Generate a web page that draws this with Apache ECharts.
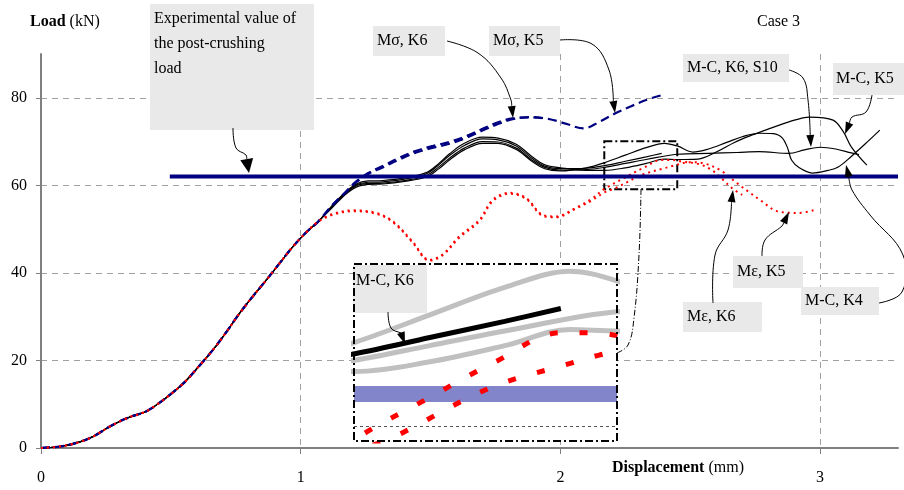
<!DOCTYPE html>
<html>
<head>
<meta charset="utf-8">
<script src="https://cdn.jsdelivr.net/npm/echarts@6/dist/echarts.min.js"></script>
<style>
  html, body { margin: 0; padding: 0; background: #fff; }
  #chart { width: 904px; height: 490px; }
</style>
</head>
<body>
<div id="chart"></div>
<script>
// common loading branch (displacement mm, load kN)
const initialLoad = [
  [0, 0], [0.08, 0.4], [0.15, 1.4], [0.2, 2.6], [0.265, 4.9], [0.33, 6.8], [0.406, 8.4],
  [0.46, 10.5], [0.51, 12.8], [0.554, 15.1], [0.61, 18.8], [0.662, 22.4], [0.715, 26.6],
  [0.765, 30.8], [0.818, 34.8], [0.868, 38.4], [0.92, 42.3], [0.97, 46], [1.02, 49.2], [1.067, 51.7]
]

const mcK6Tail = [
  [1.12, 55.2], [1.17, 58.2], [1.214, 60.1], [1.26, 60.7], [1.316, 60.8], [1.40, 61.4], [1.483, 62.6],
  [1.53, 64.6], [1.573, 66.8], [1.63, 69.1], [1.70, 70.6], [1.76, 70.4], [1.83, 69], [1.89, 66.2],
  [1.94, 64.4], [2.0, 63.8], [2.1, 63.9], [2.17, 64.5], [2.25, 65.5], [2.33, 66.5], [2.39, 67.3]
]
const mcK6S10Tail = [
  [1.12, 55], [1.17, 58], [1.214, 59.9], [1.26, 60.4], [1.316, 60.5], [1.40, 61.1], [1.483, 62.2],
  [1.53, 64.1], [1.573, 66.2], [1.63, 68.5], [1.70, 70], [1.76, 69.9], [1.83, 68.5], [1.89, 65.8],
  [1.94, 64.1], [2.0, 63.5], [2.1, 63.6], [2.17, 64.1], [2.25, 65], [2.33, 65.9], [2.45, 67.1],
  [2.57, 67.3], [2.68, 67.5], [2.765, 67.7], [2.88, 67.3], [2.94, 68.1], [3.0, 68.7], [3.06, 68.3],
  [3.12, 67.4], [3.15, 67]
]
const mcK5Tail = [
  [1.12, 55.3], [1.17, 58.3], [1.214, 60.3], [1.26, 61], [1.316, 61.1], [1.40, 61.7], [1.483, 62.9],
  [1.53, 64.9], [1.573, 67.2], [1.63, 69.6], [1.70, 71], [1.76, 70.8], [1.83, 69.4], [1.89, 66.6],
  [1.94, 64.7], [2.0, 64], [2.1, 63.4], [2.17, 63.4], [2.25, 64], [2.33, 65], [2.40, 66], [2.45, 65.9],
  [2.53, 66], [2.60, 67.6], [2.67, 69.8], [2.73, 71.3], [2.79, 72.6], [2.88, 74.5], [2.96, 75.6],
  [3.05, 74.9], [3.09, 72.2], [3.12, 68.8], [3.18, 64.6]
]
const mcK4Tail = [
  [1.12, 54.8], [1.17, 57.8], [1.214, 59.6], [1.26, 60.2], [1.316, 60.3], [1.40, 60.9], [1.483, 61.9],
  [1.53, 63.7], [1.573, 65.8], [1.63, 68.1], [1.70, 69.6], [1.76, 69.6], [1.83, 68.2], [1.89, 65.5],
  [1.94, 63.8], [2.0, 63.3], [2.1, 64], [2.17, 65.2], [2.25, 66.9], [2.33, 68.6], [2.40, 69.6],
  [2.45, 69], [2.51, 67.6], [2.57, 68.3], [2.64, 69.8], [2.70, 71.1], [2.765, 71.9], [2.82, 71.8],
  [2.855, 70.8], [2.875, 68.5], [2.89, 65.8], [2.92, 64], [2.97, 62.8], [3.03, 63.4], [3.07, 64.2],
  [3.12, 66.6], [3.18, 69.8], [3.23, 72.6]
]
const msK6Tail = [
  [1.12, 55.4], [1.17, 58.3], [1.214, 60.9], [1.26, 62.8], [1.316, 64.4], [1.38, 66.3], [1.445, 67.9],
  [1.51, 69], [1.573, 69.9], [1.64, 71.3], [1.70, 72.9], [1.76, 74.4], [1.816, 75.3], [1.89, 75.5], [1.95, 75.2]
]
const msK5Tail = [
  [1.12, 55.3], [1.17, 58.2], [1.214, 60.7], [1.26, 62.6], [1.316, 64.1], [1.38, 65.9], [1.445, 67.5],
  [1.51, 68.6], [1.573, 69.5], [1.64, 70.9], [1.70, 72.5], [1.76, 74], [1.816, 75.1], [1.89, 75.6],
  [1.96, 75.1], [2.02, 74.1], [2.09, 73], [2.15, 74.5], [2.21, 76.4], [2.27, 78], [2.33, 79.5], [2.39, 80.6]
]
const meK6Tail = [
  [1.12, 53.4], [1.2, 54.3], [1.29, 53.7], [1.355, 51.8], [1.43, 47.2], [1.496, 43], [1.546, 44.2],
  [1.61, 48.3], [1.688, 52.1], [1.74, 56.7], [1.804, 58.3], [1.868, 57.1], [1.93, 53.3], [1.98, 52.9],
  [2.07, 55.2], [2.12, 56.9], [2.17, 59.2], [2.25, 61.8], [2.32, 64], [2.39, 65.8], [2.425, 65.8],
  [2.47, 65.4], [2.53, 64.9], [2.58, 63.6], [2.62, 61.6], [2.66, 59.4], [2.70, 57.8]
]
const meK5Tail = [
  [1.12, 53.2], [1.2, 54.1], [1.29, 53.5], [1.355, 51.6], [1.43, 47], [1.496, 42.8], [1.546, 44],
  [1.61, 48], [1.688, 51.8], [1.74, 56.4], [1.804, 58.1], [1.868, 56.9], [1.93, 53.1], [1.98, 52.7],
  [2.07, 55], [2.12, 56.5], [2.17, 58.4], [2.21, 59.3], [2.315, 62.4], [2.40, 63.9], [2.43, 64.4],
  [2.5, 65.3], [2.56, 64.9], [2.62, 63.3], [2.68, 60.5], [2.73, 58.3], [2.77, 56.6], [2.84, 54],
  [2.92, 53.7], [2.98, 54.4]
]
const postCrushingLoad = 62
const postCrushingRange = [0.496, 3.3]

const xTicks = [0, 1, 2, 3]
const yTicks = [0, 20, 40, 60, 80]
// zoom window shown in the inset
const zoomX = [2.169, 2.45]
const zoomY = [59.1, 70.05]

const mcK6 = initialLoad.concat(mcK6Tail)
const mcK6S10 = initialLoad.concat(mcK6S10Tail)
const mcK5 = initialLoad.concat(mcK5Tail)
const mcK4 = initialLoad.concat(mcK4Tail)
const msK6 = initialLoad.concat(msK6Tail)
const msK5 = initialLoad.concat(msK5Tail)
const meK6 = initialLoad.concat(meK6Tail)
const meK5 = initialLoad.concat(meK5Tail)
const postCrushing = postCrushingRange.map(x => [x, postCrushingLoad])
const postCrushingZoom = zoomX.map(x => [x, postCrushingLoad])

const font = '"Liberation Serif", "Times New Roman", serif'
const dashDot = [8, 3, 2, 3]

function line (name, data, color, width, type, extra) {
  return Object.assign({
    name,
    type: 'line',
    data,
    smooth: 0.35,
    symbol: 'none',
    silent: true,
    lineStyle: { color, width, type }
  }, extra || {})
}

function inset (name, data, color, width, type, extra) {
  return line(name, data, color, width, type, Object.assign({ xAxisIndex: 1, yAxisIndex: 1, z: 3 }, extra || {}))
}

function arrow (pts, len, w) {
  const t = pts[pts.length - 1]
  const p = pts[pts.length - 2]
  const d = Math.hypot(t[0] - p[0], t[1] - p[1])
  const ux = (t[0] - p[0]) / d
  const uy = (t[1] - p[1]) / d
  const bx = t[0] - ux * len
  const by = t[1] - uy * len
  return [
    {
      type: 'polyline', z: 20, silent: true,
      shape: { points: pts.slice(0, -1).concat([[bx, by]]), smooth: 0.4 },
      style: { stroke: '#000', lineWidth: 1, fill: null }
    },
    {
      type: 'polygon', z: 20, silent: true,
      shape: { points: [t, [bx - uy * w / 2, by + ux * w / 2], [bx + uy * w / 2, by - ux * w / 2]] },
      style: { fill: '#000' }
    }
  ]
}

function label (x, y, w, h, text, tx, ty) {
  return [
    { type: 'rect', z: 19, silent: true, shape: { x, y, width: w, height: h }, style: { fill: '#e9e9e9' } },
    {
      type: 'text', z: 21, silent: true,
      style: { text, x: tx, y: ty, font: '16px ' + font, fill: '#000', verticalAlign: 'middle' }
    }
  ]
}

const graphics = [
  // inset background and frame
  { type: 'rect', z: 1, silent: true, shape: { x: 354, y: 264, width: 263, height: 177 }, style: { fill: '#fff' } },
  {
    type: 'rect', z: 20, silent: true, shape: { x: 354, y: 264, width: 263, height: 177 },
    style: { fill: null, stroke: '#000', lineWidth: 2, lineDash: dashDot }
  },
  {
    type: 'polyline', z: 20, silent: true,
    shape: { points: [[641, 189], [639, 255], [634, 318], [628, 345], [617, 353]], smooth: 0.4 },
    style: { stroke: '#000', lineWidth: 1, fill: null, lineDash: [6, 2, 1, 2] }
  },
  // axis names and case title
  {
    type: 'text', z: 21, silent: true,
    style: {
      text: '{b|Load} (kN)', x: 30, y: 22, font: '16px ' + font, fill: '#000', verticalAlign: 'middle',
      rich: { b: { fontWeight: 'bold', fontSize: 16, fontFamily: font } }
    }
  },
  {
    type: 'text', z: 21, silent: true,
    style: {
      text: '{b|Displacement} (mm)', x: 612, y: 468, font: '16px ' + font, fill: '#000', verticalAlign: 'middle',
      rich: { b: { fontWeight: 'bold', fontSize: 16, fontFamily: font } }
    }
  },
  {
    type: 'text', z: 21, silent: true,
    style: { text: 'Case 3', x: 757, y: 22, font: '16px ' + font, fill: '#000', verticalAlign: 'middle' }
  },
  {
    type: 'rect', z: 19, silent: true, shape: { x: 150, y: 4, width: 164, height: 126 }, style: { fill: '#e9e9e9' }
  },
  {
    type: 'text', z: 21, silent: true,
    style: {
      text: 'Experimental value of\nthe post-crushing\nload', x: 154, y: 6, lineHeight: 25,
      font: '16px ' + font, fill: '#000', verticalAlign: 'top'
    }
  }
].concat(
  label(373, 26, 72, 30, 'Mσ, K6', 377, 41),
  label(489, 26, 71, 30, 'Mσ, K5', 493, 41),
  label(683, 54, 106, 28, 'M-C, K6, S10', 687, 68),
  label(833, 63, 71, 32, 'M-C, K5', 836, 79),
  label(733, 256, 70, 32, 'Mε, K5', 737, 272),
  label(801, 287, 78, 28, 'M-C, K4', 805, 301),
  label(683, 302, 79, 30, 'Mε, K6', 687, 317),
  label(353, 265, 74, 48, 'M-C, K6', 356, 281),
  arrow([[233, 128], [236, 148], [246, 155], [249, 173]], 14, 13),
  arrow([[447, 41], [478, 53], [501, 78], [511, 100], [513, 118]], 12, 8),
  arrow([[560, 40], [592, 44], [609, 70], [615, 113]], 12, 8),
  arrow([[789, 70], [803, 78], [808, 100], [811, 147]], 12, 8),
  arrow([[872, 95], [866, 112], [852, 117], [845, 134]], 12, 8),
  arrow([[762, 256], [765, 240], [782, 226], [789, 212]], 12, 8),
  arrow([[713, 303], [715, 255], [728, 230], [733, 190]], 12, 8),
  arrow([[879, 303], [902, 292], [903, 255], [870, 215], [852, 190], [846, 165]], 12, 8),
  arrow([[388, 312], [391, 328], [401, 333], [405, 344]], 12, 8)
)

const option = {
  animation: false,
  backgroundColor: '#fff',
  textStyle: { fontFamily: font },
  grid: [
    { left: 41, right: 6, top: 54, bottom: 42, containLabel: false },
    { left: 354, top: 264, width: 263, height: 177, containLabel: false }
  ],
  xAxis: [
    {
      type: 'value',
      min: 0,
      max: 3.3,
      interval: 1,
      axisLine: { show: true, onZero: false, lineStyle: { color: '#808080', width: 2 } },
      axisTick: { show: true, length: 6, lineStyle: { color: '#808080' } },
      axisLabel: {
        showMaxLabel: false, margin: 22, color: '#000', fontSize: 16, fontFamily: font,
        formatter: v => (xTicks.indexOf(v) >= 0 ? String(v) : '')
      },
      splitLine: { show: true, showMinLine: false, showMaxLine: false, lineStyle: { color: '#a0a0a0', type: [6, 5] } }
    },
    { type: 'value', gridIndex: 1, min: zoomX[0], max: zoomX[1], show: false }
  ],
  yAxis: [
    {
      type: 'value',
      min: 0,
      max: 90,
      interval: 20,
      axisLine: { show: true, lineStyle: { color: '#808080', width: 2 } },
      axisTick: { show: true, length: 5, lineStyle: { color: '#808080' } },
      axisLabel: {
        showMaxLabel: false, margin: 14, color: '#000', fontSize: 16, fontFamily: font,
        formatter: v => (yTicks.indexOf(v) >= 0 ? String(v) : '')
      },
      splitLine: { show: true, showMinLine: false, showMaxLine: false, lineStyle: { color: '#a0a0a0', type: [6, 5] } }
    },
    { type: 'value', gridIndex: 1, min: zoomY[0], max: zoomY[1], show: false }
  ],
  series: [
    line('M-C, K6', mcK6, '#000', 1.2, 'solid'),
    line('M-C, K6, S10', mcK6S10, '#000', 1.2, 'solid'),
    line('M-C, K5', mcK5, '#000', 1.2, 'solid'),
    line('M-C, K4', mcK4, '#000', 1.2, 'solid'),
    line('Mσ, K6', msK6, '#000080', 2.2, [9, 5]),
    line('Mσ, K5', msK5, '#000080', 2.2, [9, 5]),
    line('Mε, K6', meK6, '#ff0000', 2, [2, 4]),
    line('Mε, K5', meK5, '#ff0000', 2, [2, 4]),
    line('Experimental post-crushing load', postCrushing, '#000080', 4, 'solid', {
      smooth: false,
      z: 5,
      markArea: {
        silent: true,
        itemStyle: { color: 'rgba(0,0,0,0)', borderColor: '#000', borderWidth: 2, borderType: dashDot },
        data: [[{ coord: [zoomX[0], zoomY[1]] }, { coord: [zoomX[1], zoomY[0]] }]]
      }
    }),
    // inset: enlarged view of the dash-dot window
    inset('inset post-crushing', postCrushingZoom, '#8285c9', 16, 'solid', {
      smooth: false,
      lineStyle: { color: '#8285c9', width: 16, cap: 'butt' },
      markLine: {
        silent: true,
        symbol: 'none',
        label: { show: false },
        lineStyle: { color: '#555', width: 1, type: [3, 3] },
        data: [{ yAxis: 60 }]
      }
    }),
    inset('inset M-C, K6, S10', mcK6S10, '#c0c0c0', 5, 'solid'),
    inset('inset M-C, K5', mcK5, '#c0c0c0', 5, 'solid'),
    inset('inset M-C, K4', mcK4, '#c0c0c0', 5, 'solid'),
    inset('inset Mε, K6', meK6, '#ff0000', 5, [8, 22]),
    inset('inset Mε, K5', meK5, '#ff0000', 5, [8, 22]),
    inset('inset M-C, K6', mcK6, '#000', 5, 'solid')
  ],
  graphic: graphics
}

const myChart = echarts.init(document.getElementById('chart'))
myChart.setOption(option)
</script>
</body>
</html>
